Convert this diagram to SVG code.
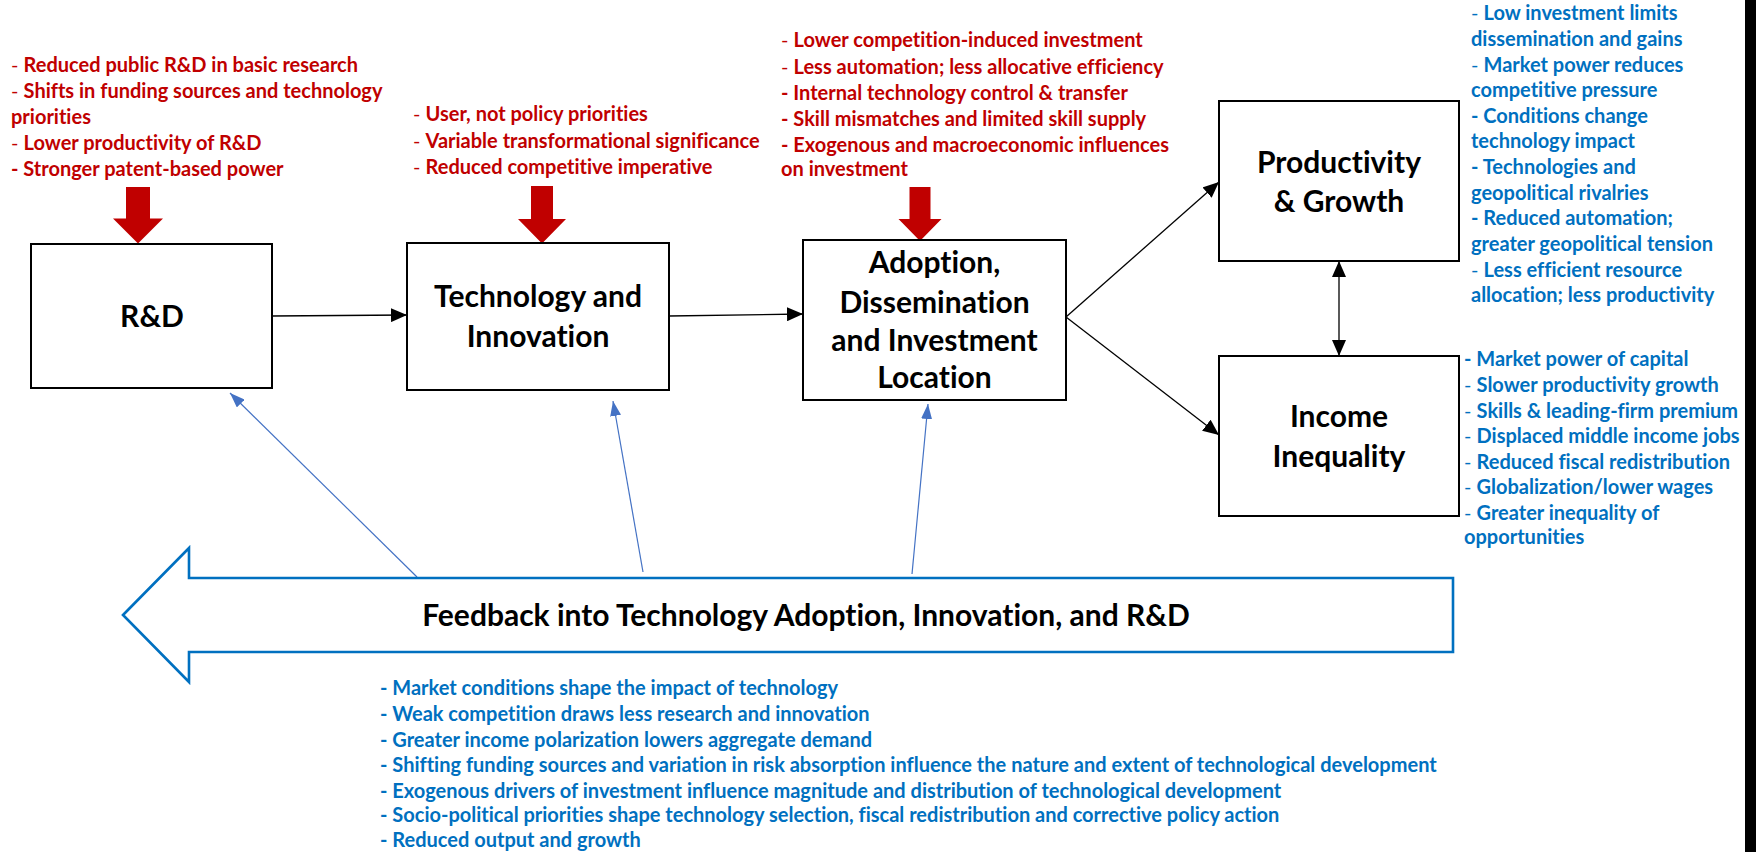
<svg xmlns="http://www.w3.org/2000/svg" width="1756" height="852" viewBox="0 0 1756 852">
<defs>
<style>
text{font-variant-ligatures:none;font-feature-settings:"liga" 0,"clig" 0}
.box{fill:#fff;stroke:#000;stroke-width:2}
.lbl{font-family:Lato,"Liberation Sans",sans-serif;font-weight:bold;font-size:30px;fill:#000;text-anchor:middle}
.red{font-family:Lato,"Liberation Sans",sans-serif;font-weight:bold;font-size:20px;fill:#C00000}
.blu{font-family:Lato,"Liberation Sans",sans-serif;font-weight:bold;font-size:20px;fill:#0070C0}
.n{font-weight:normal}
.conn{stroke:#000;stroke-width:1.3;fill:none}
.fb{stroke:#4472C4;stroke-width:1.2;fill:none}
.redarrow{fill:#C00000}
</style>
<marker id="ah" markerUnits="userSpaceOnUse" markerWidth="16" markerHeight="14" refX="16" refY="7" orient="auto-start-reverse">
<path d="M0,0 L16,7 L0,14 z" fill="#000"/>
</marker>
<marker id="bh" markerUnits="userSpaceOnUse" markerWidth="15" markerHeight="11" refX="15" refY="5.5" orient="auto">
<path d="M0,0 L15,5.5 L0,11 z" fill="#4472C4"/>
</marker>
</defs>
<rect x="0" y="0" width="1756" height="852" fill="#fff"/>
<rect x="1745" y="0" width="11" height="852" fill="#000"/>

<g id="connectors">
<line class="conn" x1="272" y1="316" x2="407" y2="315" marker-end="url(#ah)"/>
<line class="conn" x1="669" y1="316" x2="803" y2="314" marker-end="url(#ah)"/>
<line class="conn" x1="1066" y1="317" x2="1219" y2="182" marker-end="url(#ah)"/>
<line class="conn" x1="1066" y1="317" x2="1219" y2="435" marker-end="url(#ah)"/>
<line class="conn" x1="1339" y1="261" x2="1339" y2="356" marker-start="url(#ah)" marker-end="url(#ah)"/>
<line class="fb" x1="417" y1="577" x2="230" y2="393" marker-end="url(#bh)"/>
<line class="fb" x1="643" y1="572" x2="613" y2="401" marker-end="url(#bh)"/>
<line class="fb" x1="912" y1="574" x2="928" y2="404" marker-end="url(#bh)"/>
<polygon class="redarrow" points="126,187 150,187 150,218.5 163,218.5 138,243.5 113,218.5 126,218.5"/>
<polygon class="redarrow" points="531,186 553,186 553,219 566,219 542,243.5 518,219 531,219"/>
<polygon class="redarrow" points="909.5,187 930.5,187 930.5,219 941.5,219 920,241 898.5,219 909.5,219"/>
</g>

<g id="rd">
<rect class="box" x="31" y="244" width="241" height="144"/>
<text class="lbl" x="152" y="327">R&amp;D</text>
</g>
<g id="tech">
<rect class="box" x="407" y="243" width="262" height="147"/>
<text class="lbl" x="538" y="307">Technology and</text>
<text class="lbl" x="538" y="347">Innovation</text>
</g>
<g id="adoption">
<rect class="box" x="803" y="240" width="263" height="160"/>
<text class="lbl" x="934.5" y="273">Adoption,</text>
<text class="lbl" x="934.5" y="313">Dissemination</text>
<text class="lbl" x="934.5" y="351">and Investment</text>
<text class="lbl" x="934.5" y="388">Location</text>
</g>
<g id="productivity">
<rect class="box" x="1219" y="101" width="240" height="160"/>
<text class="lbl" x="1339" y="173">Productivity</text>
<text class="lbl" x="1339" y="212">&amp; Growth</text>
</g>
<g id="income">
<rect class="box" x="1219" y="356" width="240" height="160"/>
<text class="lbl" x="1339" y="427">Income</text>
<text class="lbl" x="1339" y="467">Inequality</text>
</g>

<g id="feedback">
<path d="M123,615 L189,548 L189,578 L1453,578 L1453,652 L189,652 L189,682 Z" fill="#fff" stroke="#0070C0" stroke-width="2.6"/>
<text x="806" y="626" font-family="Lato,'Liberation Sans',sans-serif" font-weight="bold" font-size="30" text-anchor="middle" fill="#000">Feedback into Technology Adoption, Innovation, and R&amp;D</text>
</g>

<g id="rd-factors">
<text class="red" x="11" y="72"><tspan class="n">- </tspan>Reduced public R&amp;D in basic research</text>
<text class="red" x="11" y="98"><tspan class="n">- </tspan>Shifts in funding sources and technology</text>
<text class="red" x="11" y="124">priorities</text>
<text class="red" x="11" y="150"><tspan class="n">- </tspan>Lower productivity of R&amp;D</text>
<text class="red" x="11" y="176">- Stronger patent-based power</text>
</g>
<g id="tech-factors">
<text class="red" x="413" y="121"><tspan class="n">- </tspan>User, not policy priorities</text>
<text class="red" x="413" y="148"><tspan class="n">- </tspan>Variable transformational significance</text>
<text class="red" x="413" y="174"><tspan class="n">- </tspan>Reduced competitive imperative</text>
</g>
<g id="adoption-factors">
<text class="red" x="781" y="47"><tspan class="n">- </tspan>Lower competition-induced investment</text>
<text class="red" x="781" y="74"><tspan class="n">- </tspan>Less automation; less allocative efficiency</text>
<text class="red" x="781" y="100">- Internal technology control &amp; transfer</text>
<text class="red" x="781" y="126">- Skill mismatches and limited skill supply</text>
<text class="red" x="781" y="152">- Exogenous and macroeconomic influences</text>
<text class="red" x="781" y="176">on investment</text>
</g>
<g id="productivity-factors">
<text class="blu" x="1471" y="20"><tspan class="n">- </tspan>Low investment limits</text>
<text class="blu" x="1471" y="46">dissemination and gains</text>
<text class="blu" x="1471" y="72"><tspan class="n">- </tspan>Market power reduces</text>
<text class="blu" x="1471" y="97">competitive pressure</text>
<text class="blu" x="1471" y="123">- Conditions change</text>
<text class="blu" x="1471" y="148">technology impact</text>
<text class="blu" x="1471" y="174">- Technologies and</text>
<text class="blu" x="1471" y="200">geopolitical rivalries</text>
<text class="blu" x="1471" y="225">- Reduced automation;</text>
<text class="blu" x="1471" y="251">greater geopolitical tension</text>
<text class="blu" x="1471" y="277"><tspan class="n">- </tspan>Less efficient resource</text>
<text class="blu" x="1471" y="302">allocation; less productivity</text>
</g>
<g id="income-factors">
<text class="blu" x="1464" y="366">- Market power of capital</text>
<text class="blu" x="1464" y="392"><tspan class="n">- </tspan>Slower productivity growth</text>
<text class="blu" x="1464" y="418"><tspan class="n">- </tspan>Skills &amp; leading-firm premium</text>
<text class="blu" x="1464" y="443"><tspan class="n">- </tspan>Displaced middle income jobs</text>
<text class="blu" x="1464" y="469"><tspan class="n">- </tspan>Reduced fiscal redistribution</text>
<text class="blu" x="1464" y="494"><tspan class="n">- </tspan>Globalization/lower wages</text>
<text class="blu" x="1464" y="520"><tspan class="n">- </tspan>Greater inequality of</text>
<text class="blu" x="1464" y="544">opportunities</text>
</g>
<g id="feedback-factors">
<text class="blu" x="380" y="695">- Market conditions shape the impact of technology</text>
<text class="blu" x="380" y="721">- Weak competition draws less research and innovation</text>
<text class="blu" x="380" y="747">- Greater income polarization lowers aggregate demand</text>
<text class="blu" x="380" y="772">- Shifting funding sources and variation in risk absorption influence the nature and extent of technological development</text>
<text class="blu" x="380" y="798">- Exogenous drivers of investment influence magnitude and distribution of technological development</text>
<text class="blu" x="380" y="822">- Socio-political priorities shape technology selection, fiscal redistribution and corrective policy action</text>
<text class="blu" x="380" y="847">- Reduced output and growth</text>
</g>
</svg>
